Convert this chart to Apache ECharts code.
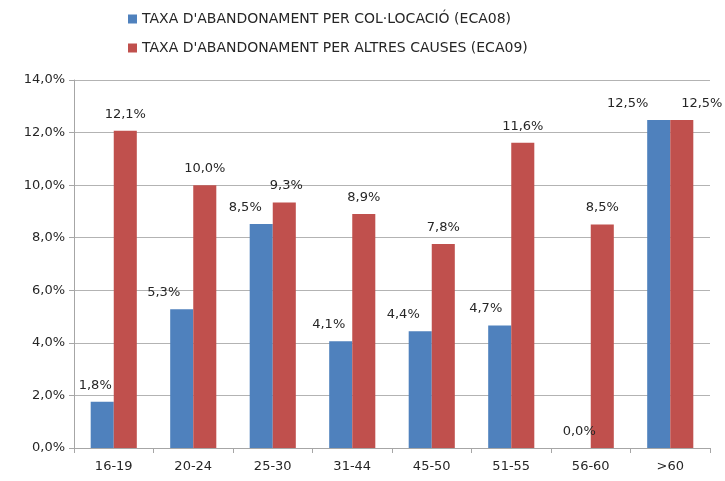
<!DOCTYPE html>
<html>
<head>
<meta charset="utf-8">
<script src="https://cdn.jsdelivr.net/npm/echarts@6/dist/echarts.min.js"></script>
<style>html,body{margin:0;padding:0;background:#fff}#c{width:725px;height:481px}</style>
</head>
<body>
<div id="c"></div>
<script>
var categories = ['16-19', '20-24', '25-30', '31-44', '45-50', '51-55', '56-60', '>60'];
var seriesNames = ['TAXA D\'ABANDONAMENT PER COL·LOCACIÓ (ECA08)', 'TAXA D\'ABANDONAMENT PER ALTRES CAUSES (ECA09)'];
var eca08 = [1.76, 5.28, 8.52, 4.06, 4.44, 4.66, 0.0, 12.48];
var eca09 = [12.07, 10.0, 9.34, 8.9, 7.76, 11.61, 8.5, 12.48];
var yTicks = { min: 0, max: 14, interval: 2 };
// label horizontal nudges (style only)
var offs08 = [-7, -18, -16, -12, -17, -14, 0, -31];
var offs09 = [0, 0, 2, 0, 0, 0, 0, 20];

var FONT = 'DejaVu Sans';
var TXT = '#262626';
function fmt(v) { return v.toFixed(1).replace('.', ',') + '%'; }
function mk(vals, offs) {
  return vals.map(function (v, i) {
    return { value: v, label: { offset: [offs[i], 0] } };
  });
}
var chart = echarts.init(document.getElementById('c'));
chart.setOption({
  animation: false,
  textStyle: { fontFamily: FONT },
  legend: {
    orient: 'vertical', left: 123, top: 7, itemGap: 15,
    itemWidth: 9, itemHeight: 9, icon: 'rect',
    textStyle: { fontFamily: FONT, fontSize: 14, color: TXT },
    data: seriesNames
  },
  grid: { left: 74, right: 15, top: 80, bottom: 33, containLabel: false },
  xAxis: {
    type: 'category', data: categories,
    axisLine: { lineStyle: { color: '#a6a6a6' } },
    axisTick: { show: true, length: 5, lineStyle: { color: '#a6a6a6' } },
    axisLabel: { fontFamily: FONT, fontSize: 13, color: TXT, margin: 12 }
  },
  yAxis: {
    type: 'value', min: yTicks.min, max: yTicks.max, interval: yTicks.interval,
    axisLine: { show: true, lineStyle: { color: '#a6a6a6' } },
    axisTick: { show: true, length: 5, lineStyle: { color: '#a6a6a6' } },
    splitLine: { lineStyle: { color: '#b3b3b3' } },
    axisLabel: { fontFamily: FONT, fontSize: 13, color: TXT, margin: 9,
      formatter: function (v) { return v.toFixed(1).replace('.', ',') + '%'; } }
  },
  series: [
    { name: seriesNames[0], type: 'bar', data: mk(eca08, offs08),
      itemStyle: { color: '#4f81bd' }, barGap: '0%', barCategoryGap: '42%',
      label: { show: true, position: 'top', distance: 10, fontFamily: FONT, fontSize: 13, color: TXT,
        formatter: function (p) { return fmt(p.value); } } },
    { name: seriesNames[1], type: 'bar', data: mk(eca09, offs09),
      itemStyle: { color: '#c0504d' }, barGap: '0%', barCategoryGap: '42%',
      label: { show: true, position: 'top', distance: 10, fontFamily: FONT, fontSize: 13, color: TXT,
        formatter: function (p) { return fmt(p.value); } } }
  ]
});
</script>
</body>
</html>
